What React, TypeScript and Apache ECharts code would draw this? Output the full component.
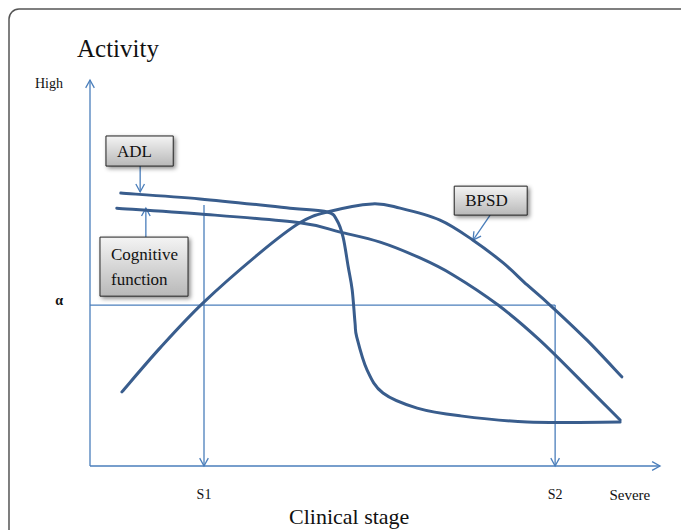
import React, { useEffect, useRef } from "react";
import * as echarts from "echarts";

// Clinical stage (x, 0..100) vs Activity (y, 0..100)
const adlCurve: [number, number][] = [
  [5.4, 70.7], [19.3, 69.2], [35.1, 66.8], [41.6, 65.8], [43.3, 63.7], [44.4, 59.3],
  [45.3, 51.6], [46.0, 45.6], [46.5, 37.0], [46.8, 33.4], [48.6, 24.9], [51.4, 18.9],
  [57.4, 15.0], [64.9, 13.0], [76.7, 11.4], [93.0, 11.4],
];
const cognitiveCurve: [number, number][] = [
  [4.7, 66.8], [19.3, 65.3], [36.8, 63.0], [43.9, 60.6], [50.9, 58.0], [57.9, 53.9],
  [63.7, 49.5], [71.6, 41.7], [78.9, 32.6], [87.2, 20.5], [93.0, 11.9],
];
const bpsdCurve: [number, number][] = [
  [5.6, 19.2], [12.3, 30.6], [19.8, 42.2], [29.8, 55.2], [36.8, 63.0], [41.6, 65.8],
  [49.5, 67.9], [54.4, 66.8], [61.4, 63.7], [67.2, 58.5], [72.5, 52.6], [76.7, 46.9],
  [80.7, 41.7], [87.2, 32.6], [93.3, 23.1],
];
const curveNames = ["ADL", "Cognitive function", "BPSD"];
const curves = [adlCurve, cognitiveCurve, bpsdCurve];

const alpha = 41.7;
const s1 = 20.0;
const s2 = 81.6;
const severe = 94.7;
const xTickValues = [s1, s2, severe];
const xTickLabels = ["S1", "S2", "Severe"];
const yTickValues = [43, 99];
const yTickLabels = ["α", "High"];

// guide lines: [x1, y1, x2, y2, arrowHead]
const guideLines: number[][] = [
  [0, 0, 0, 100, 1],
  [0, 0, 100, 0, 1],
  [0, alpha, s2, alpha, 0],
  [s1, 67.6, s1, 0, 1],
  [s2, alpha, s2, 0, 1],
  [8.8, 77.7, 8.8, 71.0, 1],
  [9.8, 59.3, 9.8, 66.8, 1],
  [70.2, 65.0, 67.2, 58.5, 1],
];

// annotation boxes: [x1, yTop, x2, yBottom]
const boxRects: number[][] = [
  [2.8, 85.5, 14.6, 77.7],
  [1.75, 59.3, 17.2, 44.0],
  [63.9, 72.5, 76.7, 65.0],
];
const boxLabels = ["ADL", "Cognitive\nfunction", "BPSD"];

const CURVE = "#395d8d";
const THIN = "#4a7ebb";
const SERIF = "Liberation Serif";

// Catmull-Rom curve through given pixel points
const SmoothCurve = echarts.graphic.extendShape({
  shape: { points: [] as number[][] },
  buildPath(ctx: any, shape: any) {
    const p: number[][] = shape.points;
    if (!p || p.length < 2) return;
    ctx.moveTo(p[0][0], p[0][1]);
    for (let i = 0; i < p.length - 1; i++) {
      const p0 = p[i - 1] || p[i];
      const p1 = p[i];
      const p2 = p[i + 1];
      const p3 = p[i + 2] || p2;
      const t = 6;
      ctx.bezierCurveTo(
        p1[0] + (p2[0] - p0[0]) / t,
        p1[1] + (p2[1] - p0[1]) / t,
        p2[0] - (p3[0] - p1[0]) / t,
        p2[1] - (p3[1] - p1[1]) / t,
        p2[0],
        p2[1]
      );
    }
  },
});
echarts.graphic.registerShape("smoothCurve", SmoothCurve);

export default function App() {
  const ref = useRef<HTMLDivElement>(null);
  useEffect(() => {
    if (!ref.current) return;
    const chart = echarts.init(ref.current, null, { renderer: "svg" });
    chart.setOption({
      animation: false,
      backgroundColor: "#fff",
      title: [
        {
          text: "Activity",
          left: 72,
          top: 31,
          textStyle: { fontFamily: SERIF, fontSize: 25, fontWeight: "normal", color: "#111" },
        },
        {
          text: "Clinical stage",
          left: 284,
          top: 500,
          textStyle: { fontFamily: SERIF, fontSize: 22, fontWeight: "normal", color: "#111" },
        },
      ],
      graphic: [
        {
          type: "rect",
          shape: { x: 9, y: 9, width: 720, height: 600, r: 10 },
          style: { fill: "none", stroke: "#555", lineWidth: 1.5 },
          silent: true,
        },
      ],
      grid: { left: 90, right: 21, top: 80, bottom: 64 },
      xAxis: {
        type: "value",
        min: 0,
        max: 100,
        axisLine: { show: false },
        axisTick: { show: false },
        splitLine: { show: false },
        axisLabel: {
          customValues: xTickValues,
          margin: 21,
          fontFamily: SERIF,
          fontSize: 14,
          color: "#111",
          rich: { b: { fontSize: 15, fontFamily: SERIF, color: "#111" } },
          formatter: (v: number) => {
            const i = xTickValues.findIndex((t) => Math.abs(t - v) < 1e-6);
            if (i < 0) return "";
            return i === 2 ? "{b|" + xTickLabels[i] + "}" : xTickLabels[i];
          },
        },
      },
      yAxis: {
        type: "value",
        min: 0,
        max: 100,
        axisLine: { show: false },
        axisTick: { show: false },
        splitLine: { show: false },
        axisLabel: {
          customValues: yTickValues,
          margin: 27,
          fontFamily: SERIF,
          fontSize: 14,
          color: "#111",
          rich: { a: { fontWeight: "bold", fontSize: 14, fontFamily: SERIF, color: "#111" } },
          formatter: (v: number) => {
            const i = yTickValues.findIndex((t) => Math.abs(t - v) < 1e-6);
            if (i < 0) return "";
            return i === 0 ? "{a|" + yTickLabels[i] + "}" : yTickLabels[i];
          },
        },
      },
      series: [
        {
          type: "custom",
          name: "guides",
          data: guideLines,
          encode: { x: [0, 2], y: [1, 3] },
          z: 2,
          renderItem: (_p: any, api: any) => {
            const p1 = api.coord([api.value(0), api.value(1)]);
            const p2 = api.coord([api.value(2), api.value(3)]);
            const head = api.value(4);
            const children: any[] = [
              {
                type: "line",
                shape: { x1: p1[0], y1: p1[1], x2: p2[0], y2: p2[1] },
                style: { stroke: THIN, lineWidth: 1.3 },
              },
            ];
            if (head) {
              const ang = Math.atan2(p2[1] - p1[1], p2[0] - p1[0]);
              const L = 9;
              const a = 0.5;
              children.push({
                type: "polyline",
                shape: {
                  points: [
                    [p2[0] - L * Math.cos(ang - a), p2[1] - L * Math.sin(ang - a)],
                    [p2[0], p2[1]],
                    [p2[0] - L * Math.cos(ang + a), p2[1] - L * Math.sin(ang + a)],
                  ],
                },
                style: { stroke: THIN, fill: "none", lineWidth: 1.3 },
              });
            }
            return { type: "group", children };
          },
        },
        {
          type: "custom",
          name: "curves",
          data: curves.map((c, i) => [c[0][0], c[0][1], i]),
          z: 5,
          renderItem: (p: any, api: any) => {
            const pts = curves[p.dataIndex].map((d) => api.coord(d));
            return {
              type: "smoothCurve",
              name: curveNames[p.dataIndex],
              shape: { points: pts },
              style: { stroke: CURVE, fill: "none", lineWidth: 3, lineCap: "round", lineJoin: "round" },
            };
          },
        },
        {
          type: "custom",
          name: "boxes",
          data: boxRects,
          encode: { x: [0, 2], y: [1, 3] },
          z: 10,
          renderItem: (p: any, api: any) => {
            const a = api.coord([api.value(0), api.value(1)]);
            const b = api.coord([api.value(2), api.value(3)]);
            const w = b[0] - a[0];
            const h = b[1] - a[1];
            return {
              type: "group",
              children: [
                {
                  type: "rect",
                  shape: { x: a[0], y: a[1], width: w, height: h },
                  style: {
                    fill: new echarts.graphic.LinearGradient(0, 0, 0, 1, [
                      { offset: 0, color: "#f4f4f4" },
                      { offset: 1, color: "#b8b8b8" },
                    ]),
                    stroke: "#222",
                    lineWidth: 1,
                    shadowBlur: 4,
                    shadowOffsetX: 2,
                    shadowOffsetY: 2,
                    shadowColor: "rgba(0,0,0,0.45)",
                  },
                },
                {
                  type: "text",
                  style: {
                    text: boxLabels[p.dataIndex],
                    x: a[0] + 11,
                    y: a[1] + h / 2,
                    align: "left",
                    verticalAlign: "middle",
                    font: "normal 17px Liberation Serif",
                    lineHeight: 25,
                    fill: "#111",
                  },
                },
              ],
            };
          },
        },
      ],
    });
    return () => chart.dispose();
  }, []);
  return (
    <div
      ref={ref}
      style={{ position: "fixed", left: 0, top: 0, width: 681, height: 530 }}
    />
  );
}
